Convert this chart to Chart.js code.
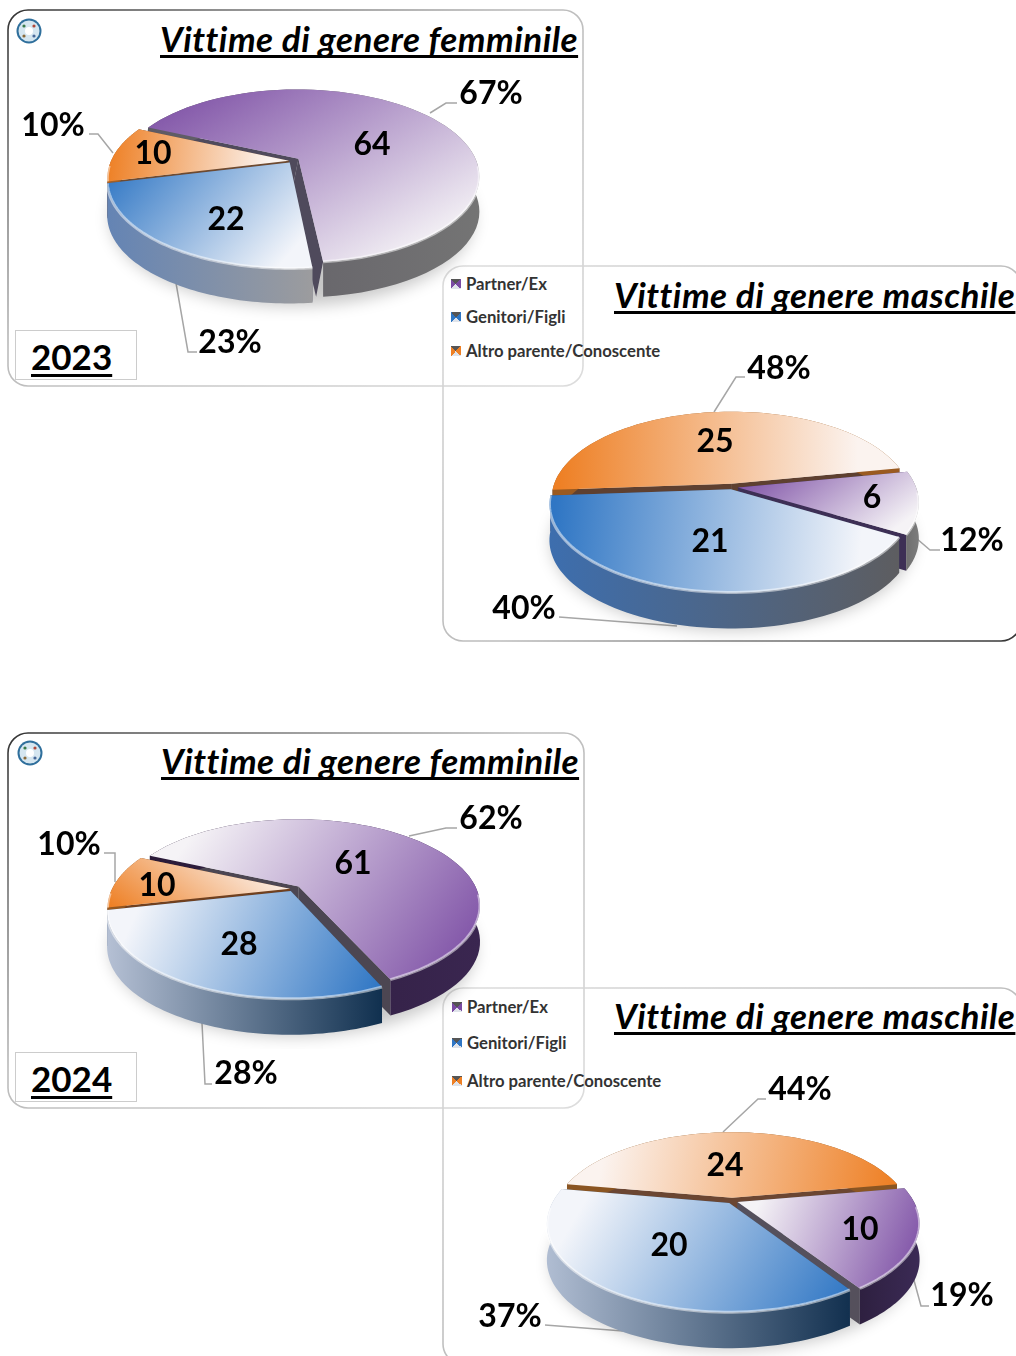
<!DOCTYPE html>
<html lang="it">
<head>
<meta charset="utf-8">
<title>Vittime di genere</title>
<script src="https://cdn.jsdelivr.net/npm/chart.js@4"></script>
<style>
  html, body { margin: 0; background: #fff; }
  #page { position: relative; width: 1016px; height: 1356px; overflow: hidden; font-family: Lato, sans-serif; font-weight: 700; color: #111; }
  #frames { position: absolute; left: 0; top: 0; }
  canvas { position: absolute; }
  .title { position: absolute; font-size: 35px; font-style: italic; line-height: 1; white-space: nowrap; color: #000; letter-spacing: 0.48px;
           text-decoration: underline; text-decoration-thickness: 3px; text-underline-offset: 3px; text-decoration-skip-ink: none; }
  .year { position: absolute; width: 122px; height: 50px; border: 1px solid #ccc; box-sizing: border-box; background: #fff; }
  .year span { position: absolute; left: 15px; top: 6px; font-size: 35px; line-height: 1.1; text-decoration: underline; text-decoration-thickness: 3px; text-underline-offset: 4px; color: #000; }
  .lab { position: absolute; transform: translate(-50%, -50%); line-height: 1; font-size: 32px; color: #000; white-space: nowrap; }
  .leg { position: absolute; font-size: 16.7px; line-height: 1; color: #333; white-space: nowrap; }
  .leg i { position: absolute; left: -15px; top: 3px; width: 10px; height: 10px; }
</style>
</head>
<body>
<div id="page">
  <svg id="frames" width="1016" height="1356">
    <defs>
      <linearGradient id="frameA" x1="0" y1="0" x2="1" y2="1">
        <stop offset="0" stop-color="#333"/><stop offset="0.45" stop-color="#bbb"/><stop offset="1" stop-color="#ddd"/>
      </linearGradient>
      <linearGradient id="frameB" x1="0" y1="0" x2="1" y2="1">
        <stop offset="0" stop-color="#ddd"/><stop offset="0.55" stop-color="#bbb"/><stop offset="1" stop-color="#333"/>
      </linearGradient>
    </defs>
  </svg>
</div>
<script>
// Dati
const categories = ['Partner/Ex', 'Genitori/Figli', 'Altro parente/Conoscente'];
const femminile2023 = [64, 22, 10];
const maschile2023 = [6, 21, 25];
const femminile2024 = [61, 28, 10];
const maschile2024 = [10, 20, 24];

const titleF = 'Vittime di genere femminile';
const titleM = 'Vittime di genere maschile';
const years = ['2023', '2024'];

// Colori: [saturo, chiaro]
const purple = ['#7a4ba3', '#f5f3f6'];
const blue = ['#2f76c4', '#f3f5fa'];
const orange = ['#ee8025', '#fbf3ef'];
const sliceColors = [purple, blue, orange];

// Ogni torta: geometria della vista e stile delle fette
const pies = [
  { id: 'f23', values: femminile2023, x: 292, y: 161, R: 178, flat: 0.472, k: 0.2, h: 35, rotation: -66,
    offsets: [8, 4, 3], cutX: [7, 0, 0],
    dirs: [[0.5, 0.85], [0.75, 0.65], [1, 0.1]],
    walls: [['#5d5a64', '#747474'], ['#6484b4', '#9c9c9e'], ['#a86228', '#8a5522']],
    cuts: ['#4f4a5c', '#5a5a6a', '#6e4a30'],
    valuePos: [[372, 143], [226, 218], [153, 152]],
    pctPos: [[491, 92], [230, 341], [53, 124]],
    leaders: [[[430, 113], [446, 103], [457, 103]], [[176, 283], [188, 352], [197, 352]], [[89, 134], [98, 134], [113, 153]]] },
  { id: 'm23', values: maschile2023, x: 732, y: 487, R: 178, flat: 0.478, k: 0.167, h: 36, rotation: 79,
    offsets: [6, 5, 7], cutX: [0, 0, 0],
    dirs: [[0.6, 0.8], [1, 0.1], [1, 0]],
    walls: [['#6f6f6f', '#7c7c7c'], ['#3d6eae', '#5d5d60'], ['#9a5a20', '#9a5a20']],
    cuts: ['#3d2f55', '#44506a', '#5e4030'],
    valuePos: [[872, 496], [710, 540], [715, 440]],
    pctPos: [[972, 539], [524, 607], [779, 367]],
    leaders: [[[916, 538], [930, 550], [940, 550]], [[559, 617], [677, 626]], [[714, 412], [736, 377], [745, 377]]] },
  { id: 'f24', values: femminile2024, x: 293, y: 889, R: 178, flat: 0.466, k: 0.22, h: 36, rotation: -66,
    offsets: [8, 5, 3], cutX: [0, 0, 0],
    dirs: [[-0.8, -0.55], [-0.9, -0.4], [0.6, -0.8]],
    walls: [['#2a1a38', '#3a2650'], ['#b5c0d4', '#10304f'], ['#9a5a20', '#8a4f1d']],
    cuts: ['#4c4652', '#3a4a60', '#70401f'],
    valuePos: [[353, 862], [239, 943], [157, 884]],
    pctPos: [[491, 817], [246, 1072], [69, 843]],
    leaders: [[[409, 836], [446, 828], [457, 828]], [[202, 1023], [205, 1084], [212, 1084]], [[104, 853], [115, 853], [115, 882]]] },
  { id: 'm24', values: maschile2024, x: 732, y: 1201, R: 176, flat: 0.468, k: 0.236, h: 36, rotation: 80,
    offsets: [6, 5, 7], cutX: [0, 0, 0],
    dirs: [[-0.8, -0.3], [-0.85, -0.5], [-1, -0.2]],
    walls: [['#2e2040', '#3b2a55'], ['#b0bdd2', '#12304f'], ['#8a5522', '#8a5522']],
    cuts: ['#55505c', '#3a4a60', '#6b4632'],
    valuePos: [[860, 1228], [669, 1244], [725, 1164]],
    pctPos: [[962, 1294], [510, 1315], [800, 1088]],
    leaders: [[[912, 1273], [921, 1306], [929, 1306]], [[545, 1325], [623, 1331]], [[723, 1132], [758, 1099], [766, 1099]]] }
];

const page = document.getElementById('page');
const frames = document.getElementById('frames');
const svgNS = 'http://www.w3.org/2000/svg';

function addFrame(x, y, w, h, grad) {
  const r = document.createElementNS(svgNS, 'rect');
  r.setAttribute('x', x); r.setAttribute('y', y);
  r.setAttribute('width', w); r.setAttribute('height', h);
  r.setAttribute('rx', 20);
  r.setAttribute('fill', 'none');
  r.setAttribute('stroke', 'url(#' + grad + ')');
  r.setAttribute('stroke-width', 1.6);
  frames.appendChild(r);
}
addFrame(8, 10, 575, 376, 'frameA');
addFrame(443, 266, 578, 375, 'frameB');
addFrame(8, 733, 576, 375, 'frameA');
addFrame(443, 988, 578, 376, 'frameB');

function addLeader(points) {
  const p = document.createElementNS(svgNS, 'polyline');
  p.setAttribute('points', points.map(q => q.join(',')).join(' '));
  p.setAttribute('fill', 'none');
  p.setAttribute('stroke', '#a6a6a6');
  p.setAttribute('stroke-width', 1.5);
  frames.appendChild(p);
}

function addLogo(cx, cy) {
  [[12.5, '#2f6f9c'], [10.5, '#d5e6f0'], [4, '#ffffff']].forEach(c => {
    const o = document.createElementNS(svgNS, 'circle');
    o.setAttribute('cx', cx); o.setAttribute('cy', cy);
    o.setAttribute('r', c[0]); o.setAttribute('fill', c[1]);
    frames.appendChild(o);
  });
  [[-5, -5, '#3a7a4a'], [5, -5, '#b0483a'], [-5, 5, '#8a6a3a'], [5, 5, '#4a6a9a']].forEach(c => {
    const o = document.createElementNS(svgNS, 'circle');
    o.setAttribute('cx', cx + c[0]); o.setAttribute('cy', cy + c[1]);
    o.setAttribute('r', 1.6); o.setAttribute('fill', c[2]);
    frames.appendChild(o);
  });
}
addLogo(29, 31);
addLogo(30, 753);

function addDiv(cls, text, left, top) {
  const d = document.createElement('div');
  d.className = cls;
  d.textContent = text;
  d.style.left = left + 'px';
  d.style.top = top + 'px';
  page.appendChild(d);
  return d;
}

function addYear(text, left, top) {
  const d = addDiv('year', '', left, top);
  const s = document.createElement('span');
  s.textContent = text;
  d.appendChild(s);
}

function addLegend(left, tops) {
  categories.forEach((c, i) => {
    const d = addDiv('leg', c, left, tops[i]);
    const sw = document.createElement('i');
    const col = sliceColors[i];
    sw.style.background = 'conic-gradient(from 45deg, ' + col[0] + ' 0 25%, #dfe3ea 0 50%, ' + col[0] + ' 0 75%, #555 0)';
    d.appendChild(sw);
  });
}

addDiv('title', titleF, 160, 21);
addDiv('title', titleM, 614, 277);
addDiv('title', titleF, 161, 743);
addDiv('title', titleM, 614, 998);
addYear(years[0], 15, 330);
addYear(years[1], 15, 1052);
addLegend(466, [276, 309, 343]);
addLegend(467, [999, 1035, 1073]);

// Proiezione prospettica del disco sul piano dello schermo
function project(g, u, v, dz) {
  const d = 1 - g.k * v;
  return { x: g.x + g.R * u / d, y: g.y + g.R * g.flat * v / d + dz };
}

function rimPoints(g, arc, ox, oy, dz) {
  const pts = [];
  const n = 70;
  for (let i = 0; i <= n; i++) {
    const a = arc.startAngle + (arc.endAngle - arc.startAngle) * i / n;
    pts.push(project(g, ox + Math.cos(a), oy + Math.sin(a), dz));
  }
  return pts;
}

function tracePath(ctx, pts) {
  ctx.beginPath();
  pts.forEach((p, i) => i ? ctx.lineTo(p.x, p.y) : ctx.moveTo(p.x, p.y));
  ctx.closePath();
}

function bounds(pts) {
  const xs = pts.map(p => p.x), ys = pts.map(p => p.y);
  return { x0: Math.min(...xs), x1: Math.max(...xs), y0: Math.min(...ys), y1: Math.max(...ys) };
}

function topGradient(ctx, pts, dir, colors) {
  const b = bounds(pts);
  const len = Math.hypot(dir[0], dir[1]);
  const dx = dir[0] / len, dy = dir[1] / len;
  const half = (Math.abs(dx) * (b.x1 - b.x0) + Math.abs(dy) * (b.y1 - b.y0)) / 2;
  const cx = (b.x0 + b.x1) / 2, cy = (b.y0 + b.y1) / 2;
  const gr = ctx.createLinearGradient(cx - dx * half, cy - dy * half, cx + dx * half, cy + dy * half);
  gr.addColorStop(0.02, colors[0]);
  gr.addColorStop(0.88, colors[1]);
  return gr;
}

const pie3d = {
  id: 'pie3d',
  beforeDatasetsDraw(chart) {
    const ctx = chart.ctx;
    const cfg = chart.options.plugins.pie3d;
    const arcs = chart.getDatasetMeta(0).data;
    const g = { x: arcs[0].x, y: arcs[0].y, R: arcs[0].outerRadius, flat: cfg.flat, k: cfg.k };
    const h = cfg.h;

    // ombra morbida sotto la torta
    const base = [];
    for (let i = 0; i < 90; i++) base.push(project(g, Math.cos(i / 90 * 2 * Math.PI), Math.sin(i / 90 * 2 * Math.PI), h));
    ctx.save();
    ctx.shadowColor = 'rgba(0,0,0,0.22)';
    ctx.shadowBlur = 16;
    ctx.shadowOffsetX = 3000;
    ctx.shadowOffsetY = 5;
    ctx.translate(-3000, 0);
    tracePath(ctx, base);
    ctx.fillStyle = '#000';
    ctx.fill();
    ctx.restore();

    // dalla fetta piu' lontana alla piu' vicina
    const order = arcs.map((arc, i) => i).sort((a, b) =>
      Math.sin((arcs[a].startAngle + arcs[a].endAngle) / 2) - Math.sin((arcs[b].startAngle + arcs[b].endAngle) / 2));

    order.forEach(i => {
      const arc = arcs[i];
      const mid = (arc.startAngle + arc.endAngle) / 2;
      const off = arc.options.offset / 4 / g.R;
      const ox = Math.cos(mid) * off, oy = Math.sin(mid) * off;
      const rim = rimPoints(g, arc, ox, oy, 0);
      const low = rimPoints(g, arc, ox, oy, h);
      const apex = project(g, ox, oy, 0);
      const apexLow = project(g, ox, oy, h);
      const rimMid = rim[Math.floor(rim.length / 2)];

      // facce di taglio
      ctx.fillStyle = cfg.cuts[i];
      [rim[0], rim[rim.length - 1]].forEach((p, side) => {
        const sx = rimMid.x < p.x ? cfg.cutX[i] : -cfg.cutX[i];
        const q = side === 0 ? low[0] : low[low.length - 1];
        tracePath(ctx, [apex, p, { x: q.x + sx, y: q.y }, { x: apexLow.x + sx, y: apexLow.y }]);
        ctx.fill();
      });

      // parete esterna
      const wb = bounds(rim);
      const wall = ctx.createLinearGradient(wb.x0, 0, wb.x1, 0);
      wall.addColorStop(0, cfg.walls[i][0]);
      wall.addColorStop(1, cfg.walls[i][1]);
      ctx.fillStyle = wall;
      tracePath(ctx, rim.concat(low.slice().reverse()));
      ctx.fill();

      // faccia superiore
      const face = [apex].concat(rim);
      ctx.fillStyle = topGradient(ctx, face, cfg.dirs[i], sliceColors[i]);
      tracePath(ctx, face);
      ctx.fill();

      // bordo chiaro sul lato anteriore
      ctx.strokeStyle = 'rgba(255,255,255,0.5)';
      ctx.lineWidth = 3;
      ctx.beginPath();
      let started = false;
      rim.forEach((p, n) => {
        const a = arc.startAngle + (arc.endAngle - arc.startAngle) * n / (rim.length - 1);
        if (Math.sin(a) > 0.05) {
          if (started) ctx.lineTo(p.x, p.y); else ctx.moveTo(p.x, p.y);
          started = true;
        }
      });
      ctx.stroke();
    });
    return false;
  }
};

const canvasW = 460, canvasH = 320;

pies.forEach(p => {
  const canvas = document.createElement('canvas');
  canvas.id = p.id;
  canvas.width = canvasW;
  canvas.height = canvasH;
  canvas.style.left = (p.x - canvasW / 2) + 'px';
  canvas.style.top = (p.y - canvasH / 2) + 'px';
  page.appendChild(canvas);

  new Chart(canvas, {
    type: 'pie',
    data: {
      labels: categories,
      datasets: [{ data: p.values, backgroundColor: sliceColors.map(c => c[0]), offset: p.offsets.map(o => o * 4), borderWidth: 0 }]
    },
    options: {
      responsive: false,
      animation: false,
      rotation: p.rotation,
      radius: p.R,
      layout: { padding: 0 },
      plugins: {
        legend: { display: false },
        tooltip: { enabled: false },
        pie3d: { flat: p.flat, k: p.k, h: p.h, cutX: p.cutX, dirs: p.dirs, walls: p.walls, cuts: p.cuts }
      }
    },
    plugins: [pie3d]
  });

  const total = p.values.reduce((a, b) => a + b, 0);
  p.values.forEach((v, i) => {
    addDiv('lab', String(v), p.valuePos[i][0], p.valuePos[i][1]);
    addDiv('lab', Math.round(v / total * 100) + '%', p.pctPos[i][0], p.pctPos[i][1]);
    addLeader(p.leaders[i]);
  });
});
</script>
</body>
</html>
